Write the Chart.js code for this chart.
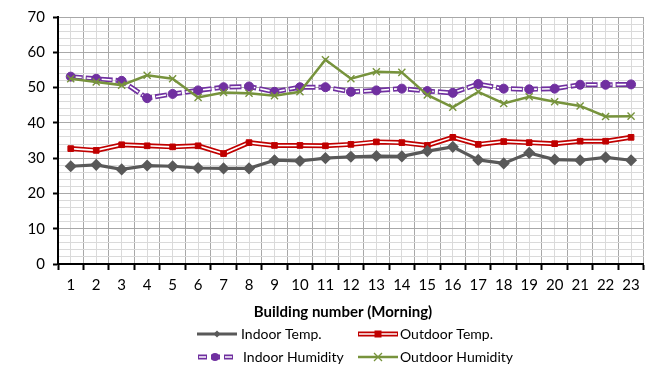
<!DOCTYPE html>
<html>
<head>
<meta charset="utf-8">
<script src="https://cdn.jsdelivr.net/npm/chart.js@4.4.0/dist/chart.umd.min.js"></script>
<style>
  html, body { margin: 0; padding: 0; background: #fff; }
  #wrap { width: 651px; height: 367px; }
</style>
</head>
<body>
<div id="wrap"><canvas id="chart" width="651" height="367"></canvas></div>
<script>
// data
var buildings = [1, 2, 3, 4, 5, 6, 7, 8, 9, 10, 11, 12, 13, 14, 15, 16, 17, 18, 19, 20, 21, 22, 23];
var indoorTemp = [27.7, 28.1, 26.8, 27.9, 27.7, 27.2, 27.1, 27.1, 29.4, 29.2, 30.0, 30.4, 30.6, 30.5, 32.0, 33.2, 29.5, 28.5, 31.5, 29.6, 29.4, 30.2, 29.4];
var outdoorTemp = [32.7, 32.2, 33.8, 33.5, 33.2, 33.5, 31.3, 34.4, 33.6, 33.6, 33.5, 33.9, 34.6, 34.4, 33.6, 35.9, 33.9, 34.7, 34.4, 34.1, 34.8, 34.8, 35.9];
var indoorHum = [53.1, 52.5, 51.9, 47.0, 48.2, 49.2, 50.1, 50.3, 48.8, 50.1, 50.1, 48.8, 49.2, 49.7, 49.0, 48.5, 51.0, 49.7, 49.5, 49.7, 50.8, 50.8, 50.9];
var outdoorHum = [52.5, 51.6, 50.7, 53.5, 52.5, 47.2, 48.6, 48.4, 47.7, 48.8, 57.9, 52.5, 54.5, 54.3, 47.9, 44.4, 48.8, 45.5, 47.4, 46.0, 44.8, 41.8, 41.9];
var yTicks = [0, 10, 20, 30, 40, 50, 60, 70];
var xTitle = 'Building number (Morning)';
var seriesNames = ['Indoor Temp.', 'Outdoor Temp.', 'Indoor Humidity', 'Outdoor Humidity'];

var FONT = 'Lato, Open Sans, sans-serif';
var GRAY = '#595959', RED = '#C00000', PURPLE = '#7030A0', GREEN = '#77933C';

function pts(arr) {
  return buildings.map(function (b, i) { return { x: b, y: arr[i] }; });
}

// legend + axis title drawn straight onto the canvas
var legendPlugin = {
  id: 'customLegend',
  afterDraw: function (chart) {
    var ctx = chart.ctx;
    ctx.save();
    ctx.fillStyle = '#000';
    ctx.textBaseline = 'middle';
    ctx.textAlign = 'center';
    ctx.font = 'bold 15px ' + FONT;
    ctx.fillText(xTitle, 343, 312);

    ctx.textAlign = 'left';
    ctx.font = '14px ' + FONT;

    function line(x1, x2, y, color, w, dash) {
      ctx.beginPath();
      ctx.setLineDash(dash || []);
      ctx.strokeStyle = color;
      ctx.lineWidth = w;
      ctx.moveTo(x1, y); ctx.lineTo(x2, y);
      ctx.stroke();
      ctx.setLineDash([]);
    }

    // Indoor Temp.
    line(197, 237, 334, GRAY, 3);
    ctx.fillStyle = GRAY;
    ctx.beginPath();
    ctx.moveTo(217, 330.5); ctx.lineTo(220.5, 334); ctx.lineTo(217, 337.5); ctx.lineTo(213.5, 334);
    ctx.closePath(); ctx.fill();
    ctx.fillStyle = '#000';
    ctx.fillText(seriesNames[0], 241, 334);

    // Outdoor Temp.
    line(358, 398, 334, RED, 5);
    line(359, 397, 334, '#fff', 1.6);
    ctx.fillStyle = RED;
    ctx.fillRect(374.5, 330.5, 7, 7);
    ctx.fillStyle = '#000';
    ctx.fillText(seriesNames[1], 400, 334);

    // Indoor Humidity
    line(198, 233, 357, PURPLE, 5, [9, 4]);
    line(199, 232, 357, '#fff', 1.6, [7, 6]);
    ctx.fillStyle = PURPLE;
    ctx.beginPath(); ctx.arc(215, 357, 4, 0, Math.PI * 2); ctx.fill();
    ctx.fillStyle = '#000';
    ctx.fillText(seriesNames[2], 243, 357);

    // Outdoor Humidity
    line(358, 398, 357, GREEN, 2.5);
    ctx.strokeStyle = GREEN; ctx.lineWidth = 1.3;
    ctx.beginPath();
    ctx.moveTo(374, 353); ctx.lineTo(382, 361);
    ctx.moveTo(382, 353); ctx.lineTo(374, 361);
    ctx.stroke();
    ctx.fillStyle = '#000';
    ctx.fillText(seriesNames[3], 400, 357);
    ctx.restore();
  }
};

var el = document.getElementById('chart');
new Chart(el.getContext('2d'), {
  type: 'line',
  data: {
    datasets: [
      { label: seriesNames[3], data: pts(outdoorHum), order: 1, borderColor: GREEN, borderWidth: 2.5,
        pointStyle: 'crossRot', pointRadius: 5, pointBorderWidth: 1.4, pointBorderColor: GREEN, pointBackgroundColor: GREEN, tension: 0 },
      { label: seriesNames[0], data: pts(indoorTemp), order: 2, borderColor: GRAY, borderWidth: 3.2,
        pointStyle: 'rectRot', pointRadius: 3.8, pointBackgroundColor: GRAY, pointBorderColor: GRAY, tension: 0 },
      // outdoor temp: double red line + square markers
      { label: 'ot-pts', data: pts(outdoorTemp), order: 3, showLine: false,
        pointStyle: 'rect', pointRadius: 4, pointBackgroundColor: RED, pointBorderColor: RED },
      { label: 'ot-in', data: pts(outdoorTemp), order: 4, borderColor: '#fff', borderWidth: 1.6, pointRadius: 0, tension: 0 },
      { label: seriesNames[1], data: pts(outdoorTemp), order: 5, borderColor: RED, borderWidth: 5, pointRadius: 0, tension: 0 },
      // indoor humidity: double dashed purple line + circles
      { label: 'ih-pts', data: pts(indoorHum), order: 6, showLine: false,
        pointStyle: 'circle', pointRadius: 4.5, pointBackgroundColor: PURPLE, pointBorderColor: PURPLE },
      { label: 'ih-in', data: pts(indoorHum), order: 7, borderColor: '#fff', borderWidth: 1.6, borderDash: [10, 5],
        borderDashOffset: -1, pointRadius: 0, tension: 0 },
      { label: seriesNames[2], data: pts(indoorHum), order: 8, borderColor: PURPLE, borderWidth: 5, borderDash: [12, 3],
        pointRadius: 0, tension: 0 }
    ]
  },
  options: {
    responsive: false,
    animation: false,
    devicePixelRatio: 1,
    layout: { padding: { top: 17, right: 1, bottom: 0, left: 0 } },
    plugins: { legend: { display: false }, tooltip: { enabled: false } },
    scales: {
      x: {
        type: 'linear', min: 0.5, max: 23.5,
        afterBuildTicks: function (s) {
          s.ticks = [];
          for (var v = 0.5; v <= 23.5; v += 0.5) s.ticks.push({ value: v });
        },
        afterFit: function (s) { s.height = 103; },
        ticks: {
          autoSkip: false, maxRotation: 0, padding: 6, color: '#000',
          font: { family: FONT, size: 15 },
          callback: function (v) { return v % 1 === 0 ? String(v) : ''; }
        },
        grid: {
          lineWidth: 1, tickLength: 6,
          color: function (c) { return c.tick && c.tick.value % 1 === 0 ? '#dadada' : '#a8a8a8'; },
          tickColor: function (c) { return c.tick && c.tick.value % 1 === 0 ? 'rgba(0,0,0,0)' : '#000'; },
          tickWidth: 2
        },
        border: { color: '#000', width: 2 }
      },
      y: {
        min: 0, max: 70,
        afterBuildTicks: function (s) {
          s.ticks = [];
          for (var v = 0; v <= 70; v += 2) s.ticks.push({ value: v });
        },
        afterFit: function (s) { s.width = 58; },
        ticks: {
          autoSkip: false, padding: 8, color: '#000',
          font: { family: FONT, size: 15 },
          callback: function (v) { return yTicks.indexOf(v) >= 0 ? String(v) : ''; }
        },
        grid: {
          lineWidth: 1, tickLength: 5,
          color: function (c) { return c.tick && c.tick.value % 10 === 0 ? '#a8a8a8' : '#dadada'; },
          tickColor: function (c) { return c.tick && c.tick.value % 10 === 0 ? '#000' : 'rgba(0,0,0,0)'; },
          tickWidth: 2
        },
        border: { color: '#000', width: 2 }
      }
    }
  },
  plugins: [legendPlugin]
});
</script>
</body>
</html>
